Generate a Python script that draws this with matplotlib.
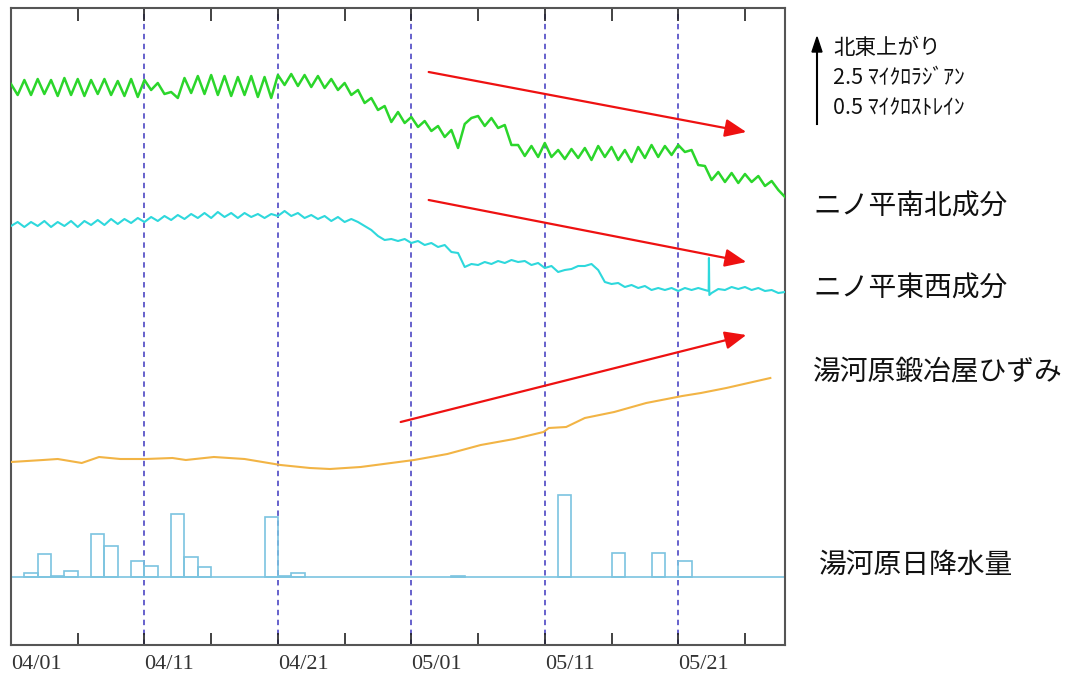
import matplotlib
matplotlib.use("Agg")
import matplotlib.pyplot as plt
import numpy as np

# 日数 (04/01 = 0) と半日ごとのサンプル
t = np.arange(0, 58.5, 0.5)

# ニノ平 南北成分 (相対値)
ns_tilt = [
    561, 550, 565, 550, 566, 551, 565, 549, 567, 550, 566, 549, 565, 551, 566, 550, 564, 549, 566, 548,
    565, 555, 562, 551, 553, 547, 567, 552, 569, 551, 570, 550, 569, 549, 568, 550, 569, 548, 568, 547,
    570, 560, 571, 559, 570, 558, 569, 557, 566, 555, 562, 550, 555, 542, 547, 535, 539, 523, 533, 522,
    528, 518, 524, 514, 519, 508, 515, 497, 521, 527, 529, 519, 527, 517, 520, 500, 500, 489, 499, 488,
    502, 488, 495, 486, 496, 487, 497, 485, 499, 488, 498, 485, 495, 483, 498, 487, 500, 488, 499, 490,
    500, 493, 495, 480, 479, 465, 473, 463, 472, 462, 471, 463, 469, 459, 464, 455, 448,
]

# ニノ平 東西成分 (相対値)
ew_tilt = [
    419, 423, 418, 423, 419, 424, 418, 423, 419, 424, 418, 424, 420, 425, 420, 426, 421, 426, 422, 427,
    423, 428, 424, 429, 425, 430, 426, 431, 427, 432, 427, 433, 428, 432, 427, 432, 428, 431, 427, 431,
    429, 434, 429, 432, 427, 430, 426, 429, 424, 428, 423, 426, 423, 419, 415, 409, 405, 406, 404, 406,
    402, 404, 400, 402, 398, 400, 393, 392, 378, 381, 380, 383, 381, 384, 382, 385, 383, 384, 380, 382,
    377, 379, 373, 375, 376, 379, 379, 381, 375, 363, 361, 362, 358, 360, 357, 359, 355, 357, 355, 357,
    354, 357, 355, 357, 355, 352, 356, 355, 358, 356, 358, 355, 357, 354, 355, 352, 353,
]
ew_spike_t = [52.28, 52.3, 52.33]
ew_spike = [354, 387, 350]

# 湯河原鍛冶屋 ひずみ (相対値)
strain_t = [0.0, 2.4, 3.5, 4.4, 5.3, 6.6, 8.2, 10.1, 12.1, 13.1, 15.2, 17.5, 20.2, 22.4,
            23.9, 26.2, 30.2, 32.7, 35.2, 37.7, 39.9, 40.3, 41.6, 43.0, 45.2, 47.6, 50.3,
            51.7, 53.6, 56.9]
strain = [183, 185, 186, 184, 182, 188, 186, 186, 187, 185, 188, 186, 180, 177,
          176, 178, 185, 191, 200, 206, 213, 217, 218, 227, 233, 242, 249,
          252, 257, 267]

# 湯河原 日降水量 (mm)
rain_day = [1, 2, 3, 4, 6, 7, 9, 10, 12, 13, 14, 19, 20, 21, 33, 41, 45, 48, 50]
rain_mm = [4, 23, 1, 6, 43, 31, 16, 11, 63, 20, 10, 60, 1.5, 4.5, 1, 82, 24, 24, 16]
rain_base = 68

tick_days = [0, 10, 20, 30, 40, 50]
tick_labels = ["04/01", "04/11", "04/21", "05/01", "05/11", "05/21"]

plt.rcParams["font.family"] = ["Noto Sans CJK JP", "DejaVu Sans"]

W, H = 1069, 682
fig = plt.figure(figsize=(W / 100, H / 100), dpi=100)
ax = fig.add_axes([11 / W, 1 - 645 / H, 774 / W, 637 / H])

ax.set_xlim(0, 58)
ax.set_ylim(0, 637)

# 10日ごとの縦の破線
for d in tick_days[1:]:
    ax.axvline(d, color="#5a55c8", lw=1.3, ls=(0, (3, 2.5)), zorder=1)

ax.plot(t, ns_tilt, color="#2bd62b", lw=1.8, zorder=3)

ew_t = np.concatenate([t, ew_spike_t])
ew_v = np.concatenate([ew_tilt, ew_spike])
order = np.argsort(ew_t)
ax.plot(ew_t[order], ew_v[order], color="#2ed8dc", lw=1.5, zorder=3)

ax.plot(strain_t, strain, color="#f2b445", lw=1.5, zorder=3)

ax.axhline(rain_base, color="#7cc4e0", lw=1.2, zorder=2)
ax.bar(rain_day, rain_mm, width=1, align="edge", bottom=rain_base,
       fill=False, edgecolor="#7cc4e0", lw=1.2, zorder=2)

# 傾向を示す赤い矢印
arrows = [((31.3, 573), (55.1, 513)),
          ((31.3, 445), (55.1, 383)),
          ((29.2, 223), (55.1, 310))]
for start, end in arrows:
    ax.annotate("", xy=end, xytext=start,
                arrowprops=dict(arrowstyle="-|>,head_length=1.3,head_width=0.55",
                                color="#ee1111", lw=1.6, shrinkA=0, shrinkB=0))

ax.set_xticks(tick_days)
ax.set_xticklabels(tick_labels, ha="left", family="Liberation Serif",
                   fontsize=16, color="#333333")
ax.set_xticks(np.arange(5, 58, 10), minor=True)
ax.tick_params(axis="x", which="both", direction="in", length=9, width=1.2,
               top=True, bottom=True, color="#222222", pad=7)
ax.set_yticks([])
for s in ax.spines.values():
    s.set_color("#555555")
    s.set_linewidth(1.5)

# 右側の凡例
fig.patches.append(plt.Polygon([[817 / W, 1 - 37 / H], [812 / W, 1 - 52 / H],
                                [822 / W, 1 - 52 / H]], closed=True,
                               transform=fig.transFigure, color="black"))
fig.add_artist(plt.Line2D([817 / W, 817 / W], [1 - 50 / H, 1 - 124 / H],
                          transform=fig.transFigure, color="black", lw=1.5))
fig.text(833 / W, 1 - 48 / H, "北東上がり", fontsize=15.5, va="center", color="#111111")
fig.text(833 / W, 1 - 78 / H, "2.5 ﾏｲｸﾛﾗｼﾞｱﾝ", fontsize=15.5, va="center", color="#111111")
fig.text(833 / W, 1 - 108 / H, "0.5 ﾏｲｸﾛｽﾄﾚｲﾝ", fontsize=15.5, va="center", color="#111111")

labels = [("ニノ平南北成分", 813, 207), ("ニノ平東西成分", 813, 289),
          ("湯河原鍛冶屋ひずみ", 813, 372), ("湯河原日降水量", 819, 565)]
for txt, x, y in labels:
    fig.text(x / W, 1 - y / H, txt, fontsize=20, va="center", color="#111111")

fig.savefig("out.png", dpi=100)
